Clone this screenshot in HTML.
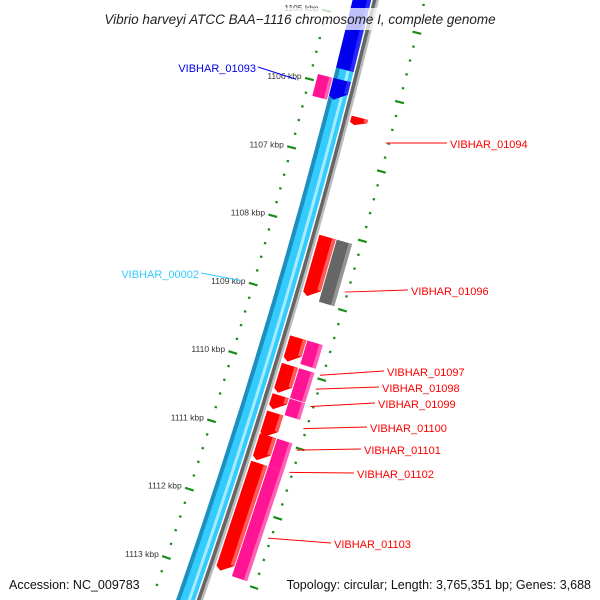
<!DOCTYPE html>
<html><head><meta charset="utf-8"><style>
html,body{margin:0;padding:0;background:#fff;}
svg{display:block;font-family:"Liberation Sans",sans-serif;}
</style></head><body>
<svg id="map" width="600" height="600" viewBox="0 0 600 600" xmlns="http://www.w3.org/2000/svg">
<defs>
<linearGradient id="gCyan" x1="0" x2="1" y1="0" y2="0">
<stop offset="0" stop-color="#1e8fbf"/><stop offset="0.22" stop-color="#1e8fbf"/><stop offset="0.23" stop-color="#33ccff"/><stop offset="0.6" stop-color="#33ccff"/><stop offset="0.62" stop-color="#a8eaff"/><stop offset="0.75" stop-color="#a8eaff"/><stop offset="0.77" stop-color="#33ccff"/><stop offset="1" stop-color="#33ccff"/></linearGradient>
<linearGradient id="gGray" x1="0" x2="1"><stop offset="0" stop-color="#555"/><stop offset="0.5" stop-color="#777"/><stop offset="0.6" stop-color="#bbb"/><stop offset="1" stop-color="#ccc"/></linearGradient>
</defs>
<g id="tracks"></g>
<g id="ticks"></g>
<g id="genes"></g>
<g id="labels"></g>
<rect x="76" y="8" width="450" height="22" fill="#fff" fill-opacity="0.75"/>
<text x="300" y="24" text-anchor="middle" font-size="13.5" font-style="italic" fill="#222">Vibrio harveyi ATCC BAA−1116 chromosome I, complete genome</text>
<rect x="258" y="576" width="336" height="20" fill="#fff" fill-opacity="0.75"/>
<text x="9" y="589" font-size="12.5" fill="#111">Accession: NC_009783</text>
<text x="591" y="589" text-anchor="end" font-size="12.5" fill="#111">Topology: circular; Length: 3,765,351 bp; Genes: 3,688</text>
</svg>
<script>
const tickKbp = [1105,1106,1107,1108,1109,1110,1111,1112,1113];
const tickLabels = ["1105 kbp","1106 kbp","1107 kbp","1108 kbp","1109 kbp","1110 kbp","1111 kbp","1112 kbp","1113 kbp"];
const geneStart = [1106.35,1108.08,1108.08,1109.54,1109.54,1109.94,1109.94,1110.38,1110.38,1110.63,1110.96,1110.96,1111.36,1111.36,1105.9,1104.4,1105.9];
const geneEnd   = [1106.47,1108.95,1108.98,1109.90,1109.88,1110.35,1110.37,1110.59,1110.62,1110.99,1111.33,1111.36,1112.93,1112.95,1106.22,1105.75,1106.2];
const geneLane  = ["red","red","mag","red","mag","red","mag","red","mag","red","red","mag","red","mag","left","cyan","cyan"];
const geneColor = ["#ff0000","#ff0000","#666666","#ff0000","#ff1493","#ff0000","#ff1493","#ff0000","#ff1493","#ff0000","#ff0000","#ff1493","#ff0000","#ff1493","#ff1493","#0000ee","#0000ee"];
const geneArrow = [1,1,0,1,0,1,0,1,0,1,1,0,1,0,0,0,1];
const labelText = ["VIBHAR_01093","VIBHAR_00002","VIBHAR_01094","VIBHAR_01096","VIBHAR_01097","VIBHAR_01098","VIBHAR_01099","VIBHAR_01100","VIBHAR_01101","VIBHAR_01102","VIBHAR_01103"];
const labelKbp = [1106.05,1109.0,1106.6,1108.75,1109.95,1110.15,1110.4,1110.72,1111.03,1111.35,1112.3];
const labelColor = ["#0000ee","#33ccff","#ff0000","#ff0000","#ff0000","#ff0000","#ff0000","#ff0000","#ff0000","#ff0000","#ff0000"];
const labelSide = [-1,-1,1,1,1,1,1,1,1,1,1];
const labelTextX = [256,199,450,411,387,382,378,370,364,357,334];
const labelTextY = [72,278,148,295,376,392,408,432,454,478,548];

const NS="http://www.w3.org/2000/svg";
function yc(k){return 87+(k-1106)*68.7;}
function cx(y){return 362-0.24*y-0.00009*y*y;}
function P(k,r){const y=yc(k);const d=-0.24-0.00018*y;const n=Math.sqrt(1+d*d);return [cx(y)+r/n,y-r*d/n];}
function mk(tag,attrs,parent){const e=document.createElementNS(NS,tag);for(const a in attrs)e.setAttribute(a,attrs[a]);parent.appendChild(e);return e;}
function band(k0,k1,r0,r1){const pts=[];const N=40;for(let i=0;i<=N;i++){pts.push(P(k0+(k1-k0)*i/N,r0));}for(let i=N;i>=0;i--){pts.push(P(k0+(k1-k0)*i/N,r1));}return pts.map(p=>p[0].toFixed(1)+","+p[1].toFixed(1)).join(" ");}
const tracks=document.getElementById('tracks');
let t=mk('polygon',{points:band(1104.5,1113.6,-9,9),fill:'#33ccff'},tracks);


[[-9,-5,'#1e8fbf'],[2,5,'#a8eaff']].forEach(s=>{const e=mk('polygon',{points:band(1104.5,1113.6,s[0],s[1]),fill:s[2]},tracks);

});
t=mk('polygon',{points:band(1104.5,1113.6,10.5,16.5),fill:'#bbbbbb'},tracks);


t=mk('polygon',{points:band(1104.5,1113.6,10.5,14),fill:'#666666'},tracks);



const ticks=document.getElementById('ticks');
const G='#1a8c1a';
for(let k=1104.6;k<=1113.6;k+=0.2){
  const kk=Math.round(k*10)/10;const major=Math.abs(kk-Math.round(kk))<0.01;
  [-32,61].forEach(r=>{
    const w=major?4.5:1.2;const a=P(kk,r-w),b=P(kk,r+w);
    const l=mk('line',{x1:a[0],y1:a[1],x2:b[0],y2:b[1],stroke:G,'stroke-width':major?2.2:2.2},ticks);
    
    
  });
}
tickKbp.forEach((k,i)=>{const p=P(k,-40);const e=mk('text',{x:p[0],y:p[1]+2,'text-anchor':'end','font-size':'8.5',fill:'#333'},ticks);e.textContent=tickLabels[i];

});

const genes=document.getElementById('genes');
const laneR={red:[18,35],mag:[36,52],left:[-25,-10],cyan:[-9,9]};
function shade(c){return c==='#ff0000'?'#ff8080':c==='#ff1493'?'#ff80c8':c==='#666666'?'#aaaaaa':'#3a3aff';}
for(let i=0;i<geneStart.length;i++){
  const [r0,r1]=laneR[geneLane[i]];const s=geneStart[i],e=geneEnd[i];
  let pts;
  if(geneArrow[i]){const h=Math.min(0.12,(e-s)*0.6);const rm=(r0+r1)/2;
    pts=[P(s,r0),P(s,r1),P(e-h,r1),P(e,r0+ (r1-r0)*0.3),P(e-h*0.4,r0)];}
  else pts=[P(s,r0),P(s,r1),P(e,r1),P(e,r0)];
  const g=mk('polygon',{points:pts.map(p=>p[0].toFixed(1)+","+p[1].toFixed(1)).join(" "),fill:geneColor[i]},genes);
  
  
  const rs=r1-(r1-r0)*0.22;
  const hl=mk('polygon',{points:[P(s,rs),P(s,r1),P(e-(geneArrow[i]?Math.min(0.12,(e-s)*0.6):0),r1),P(e-(geneArrow[i]?Math.min(0.12,(e-s)*0.6):0),rs)].map(p=>p[0].toFixed(1)+","+p[1].toFixed(1)).join(" "),fill:shade(geneColor[i]),'fill-opacity':'0.7'},genes);
  
  
}

const labels=document.getElementById('labels');
for(let i=0;i<labelText.length;i++){
  const p=P(labelKbp[i],labelSide[i]<0?-45:58);
  const tx=labelTextX[i],ty=labelTextY[i];
  const lx=labelSide[i]<0?tx+2:tx-3;
  const l=mk('line',{x1:p[0],y1:p[1],x2:lx,y2:ty-5,stroke:labelColor[i],'stroke-width':1},labels);
  
  
  const e=mk('text',{x:tx,y:ty,'text-anchor':labelSide[i]<0?'end':'start','font-size':'11',fill:labelColor[i]},labels);
  e.textContent=labelText[i];
  
  
}
</script>
</body></html>
